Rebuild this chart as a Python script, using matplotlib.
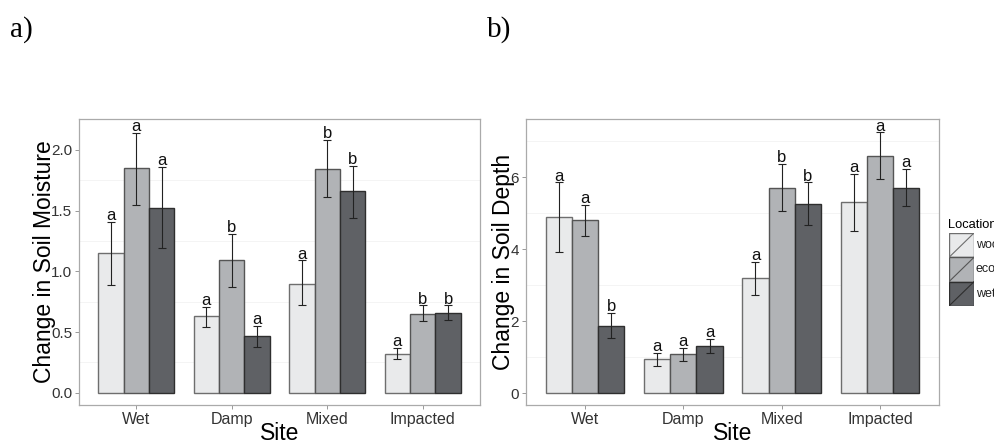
import matplotlib
matplotlib.use('Agg')

import matplotlib.pyplot as plt
from matplotlib.patches import Rectangle
import numpy as np

plt.rcParams['font.family'] = ['Liberation Sans', 'DejaVu Sans']

sites = ['Wet', 'Damp', 'Mixed', 'Impacted']
locations = ['woodland', 'ecotone', 'wetland']

# soil moisture, one row per location
moist_mean = [[1.15, 0.63, 0.90, 0.32],
              [1.85, 1.09, 1.84, 0.65],
              [1.52, 0.47, 1.66, 0.66]]
moist_lo = [[0.89, 0.54, 0.72, 0.28],
            [1.55, 0.87, 1.61, 0.59],
            [1.19, 0.38, 1.44, 0.60]]
moist_hi = [[1.41, 0.71, 1.09, 0.37],
            [2.14, 1.31, 2.08, 0.72],
            [1.86, 0.55, 1.87, 0.72]]
moist_letters = [['a', 'a', 'a', 'a'],
                 ['a', 'b', 'b', 'b'],
                 ['a', 'a', 'b', 'b']]

# soil depth
depth_mean = [[4.90, 0.95, 3.20, 5.31],
              [4.81, 1.09, 5.71, 6.59],
              [1.88, 1.33, 5.27, 5.71]]
depth_lo = [[3.94, 0.76, 2.73, 4.50],
            [4.37, 0.91, 5.06, 5.96],
            [1.55, 1.11, 4.67, 5.21]]
depth_hi = [[5.86, 1.13, 3.66, 6.10],
            [5.24, 1.27, 6.37, 7.25],
            [2.23, 1.52, 5.86, 6.23]]
depth_letters = [['a', 'a', 'a', 'a'],
                 ['a', 'a', 'b', 'a'],
                 ['b', 'a', 'b', 'a']]

fills = ['#E9EAEB', '#B1B3B6', '#5F6165']
edges = ['#6E6E6E', '#555555', '#2E2E2E']
bw = 0.8 / 3


def panel(ax, mean, lo, hi, letters, ylim, yticks, ytlabels, minor, ylabel, ylab_x):
    x = np.arange(len(sites))
    for i in range(3):
        xi = x + (i - 1) * bw
        m = np.array(mean[i])
        err = [m - np.array(lo[i]), np.array(hi[i]) - m]
        ax.bar(xi, m, width=bw, color=fills[i], edgecolor=edges[i], linewidth=1.0, zorder=2)
        ax.errorbar(xi, m, yerr=err, fmt='none', ecolor='#222222', elinewidth=0.8,
                    capsize=2.8, capthick=0.8, zorder=3)
        for xx, top, lab in zip(xi, hi[i], letters[i]):
            ax.annotate(lab, (xx, top), xytext=(0, 1.2), textcoords='offset points',
                        ha='center', va='baseline', fontsize=12, color='#111111')
    for g in minor:
        ax.axhline(g, color='#F3F3F3', linewidth=0.6, zorder=0)
    ax.set_xlim(-0.6, 3.6)
    ax.set_ylim(*ylim)
    ax.set_xticks(x)
    ax.set_xticklabels(sites, fontsize=11.5, color='#333333')
    ax.set_yticks(yticks)
    ax.set_yticklabels(ytlabels, fontsize=11, color='#333333')
    ax.tick_params(length=3, width=0.6, color='#888888', pad=2)
    for s in ax.spines.values():
        s.set_color('#AAAAAA')
        s.set_linewidth(0.9)
    ax.set_ylabel(ylabel, fontsize=16.5, va='center')
    ax.yaxis.set_label_coords(ylab_x, 0.5)
    ax.set_xlabel('Site', fontsize=16.5, va='center')
    ax.xaxis.set_label_coords(0.5, -28 / 286)


fig = plt.figure(figsize=(9.95, 4.41), dpi=100)
H = 441.0
W = 995.0

ax1 = fig.add_axes([79 / W, 36 / H, 401 / W, 286 / H])
panel(ax1, moist_mean, moist_lo, moist_hi, moist_letters, (-0.1, 2.254),
      [0, 0.5, 1.0, 1.5, 2.0], ['0.0', '0.5', '1.0', '1.5', '2.0'],
      [0.25, 0.75, 1.25, 1.75], 'Change in Soil Moisture', -0.087)

ax2 = fig.add_axes([526 / W, 36 / H, 413 / W, 286 / H])
panel(ax2, depth_mean, depth_lo, depth_hi, depth_letters, (-0.32, 7.62),
      [0, 2, 4, 6], ['0', '2', '4', '6'],
      [1, 3, 5, 7], 'Change in Soil Depth', -0.055)

fig.text(10 / W, 1 - 30 / H, 'a)', family=['Liberation Serif', 'DejaVu Serif'],
         fontsize=21, ha='left', va='center')
fig.text(487 / W, 1 - 30 / H, 'b)', family=['Liberation Serif', 'DejaVu Serif'],
         fontsize=21, ha='left', va='center')

# legend, cut off by the right edge like the original
lax = fig.add_axes([949 / W, (H - 306) / H, 25 / W, 73 / H])
lax.set_xlim(0, 1)
lax.set_ylim(0, 3)
lax.axis('off')
for i in range(3):
    y0 = 2 - i
    lax.add_patch(Rectangle((0, y0), 1, 1, facecolor=fills[i], edgecolor=edges[i], linewidth=1.0))
    lax.plot([0, 1], [y0, y0 + 1], color=edges[i], linewidth=0.8)
    fig.text(976 / W, 1 - (245 + 24.5 * i) / H, locations[i], fontsize=9,
             ha='left', va='center', color='#222222')
fig.text(948 / W, 1 - 225 / H, 'Location', fontsize=9.3, ha='left', va='center')

fig.savefig('out.png', dpi=100)
